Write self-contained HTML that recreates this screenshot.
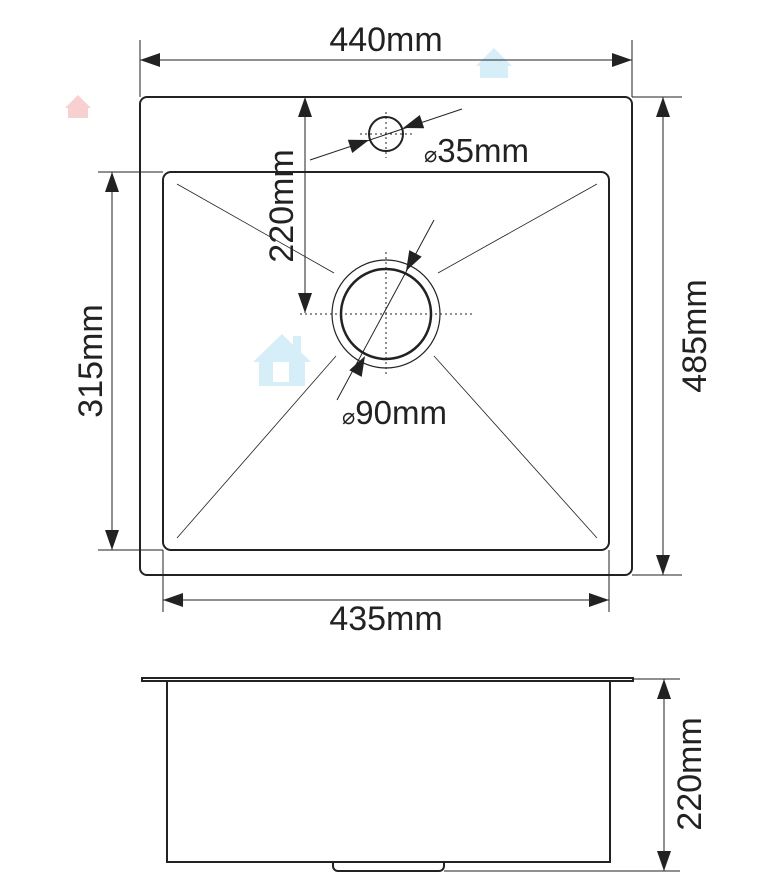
<!DOCTYPE html>
<html><head><style>html,body{margin:0;padding:0;background:#fff}svg{display:block}</style></head>
<body>
<svg width="782" height="893" viewBox="0 0 782 893" xmlns="http://www.w3.org/2000/svg" font-family="Liberation Sans, sans-serif">
<g fill="#d6eef8"><polygon points="476,66 494,48 512,66"/><rect x="480" y="64" width="28" height="14"/></g>
<g fill="#f8d0d0"><polygon points="65,108 78,95 91,108"/><rect x="68" y="106" width="20" height="12"/></g>
<g fill="#d6eef8"><polygon points="253,362 282,334 311,362"/><rect x="259" y="358" width="46" height="28"/><rect x="293" y="336" width="8" height="16"/></g>
<rect x="273" y="362" width="16" height="20" fill="#fff"/>
<g fill="none" stroke="#222">
<rect x="140" y="97" width="492" height="478" rx="7" stroke-width="2"/>
<rect x="163" y="172" width="446" height="378" rx="8" stroke-width="2"/>
<g stroke-width="1">
<line x1="140" y1="40" x2="140" y2="97"/><line x1="632" y1="40" x2="632" y2="97"/>
<line x1="140" y1="60" x2="632" y2="60"/>
<line x1="632" y1="97" x2="682" y2="97"/><line x1="632" y1="575" x2="682" y2="575"/>
<line x1="663" y1="97" x2="663" y2="575"/>
<line x1="98" y1="172" x2="163" y2="172"/><line x1="98" y1="550" x2="163" y2="550"/>
<line x1="112" y1="172" x2="112" y2="550"/>
<line x1="163" y1="550" x2="163" y2="612"/><line x1="609" y1="550" x2="609" y2="612"/>
<line x1="163" y1="600" x2="609" y2="600"/>
<line x1="305" y1="97" x2="305" y2="313"/>
<line x1="310" y1="160" x2="462" y2="109"/>
<line x1="434" y1="220" x2="337" y2="400"/>
</g>
<g stroke-width="0.8">
<line x1="177" y1="184" x2="334" y2="273"/><line x1="597" y1="184" x2="438" y2="273"/>
<line x1="177" y1="538" x2="336" y2="356"/><line x1="597" y1="538" x2="434" y2="356"/>
</g>
<g stroke-width="1" stroke-dasharray="2,3">
<line x1="360" y1="134" x2="412" y2="134"/><line x1="386" y1="112" x2="386" y2="158"/>
<line x1="300" y1="314" x2="472" y2="314"/><line x1="386" y1="252" x2="386" y2="376"/>
</g>
<circle cx="386" cy="134" r="17" stroke-width="2"/>
<circle cx="386" cy="314" r="54" stroke-width="1.2"/>
<circle cx="386" cy="314" r="45" stroke-width="2.5"/>
<!-- side view -->
<rect x="142" y="678" width="491" height="3" stroke-width="2"/>
<polyline points="167,681 167,862 610,862 610,681" stroke-width="2"/>
<path d="M333,862 v4 a5,5 0 0 0 5,5 h101 a5,5 0 0 0 5,-5 v-4" stroke-width="2"/>
<g stroke-width="1">
<line x1="633" y1="679" x2="680" y2="679"/><line x1="444" y1="871" x2="680" y2="871"/>
<line x1="664" y1="679" x2="664" y2="871"/>
</g>
</g>
<g fill="#222">
<polygon points="140,60 160,53 160,67"/><polygon points="632,60 612,53 612,67"/>
<polygon points="663,97 656,117 670,117"/><polygon points="663,575 656,555 670,555"/>
<polygon points="112,172 105,192 119,192"/><polygon points="112,550 105,530 119,530"/>
<polygon points="163,600 183,593 183,607"/><polygon points="609,600 589,593 589,607"/>
<polygon points="305,97 298,117 312,117"/><polygon points="305,313 298,293 312,293"/>
<polygon points="664,679 657,699 671,699"/><polygon points="664,871 657,851 671,851"/>
<polygon points="369,140 352.2,153 347.8,139.8"/><polygon points="403,128 424.2,128.2 419.8,115"/>
<polygon points="406,271 421.7,256.7 409.3,250.1"/><polygon points="365,356 361.7,376.9 349.3,370.3"/>
</g>
<g fill="#222" font-size="34">
<text x="386" y="51" text-anchor="middle">440mm</text>
<text x="386" y="630" text-anchor="middle">435mm</text>
<text x="424" y="162" font-size="33"><tspan font-size="22">⌀</tspan>35mm</text>
<text x="342" y="424" font-size="33"><tspan font-size="22">⌀</tspan>90mm</text>
<text transform="translate(706,336) rotate(-90)" text-anchor="middle">485mm</text>
<text transform="translate(102,361) rotate(-90)" text-anchor="middle">315mm</text>
<text transform="translate(293,206) rotate(-90)" text-anchor="middle">220mm</text>
<text transform="translate(701,774) rotate(-90)" text-anchor="middle">220mm</text>
</g>
</svg>
</body></html>
